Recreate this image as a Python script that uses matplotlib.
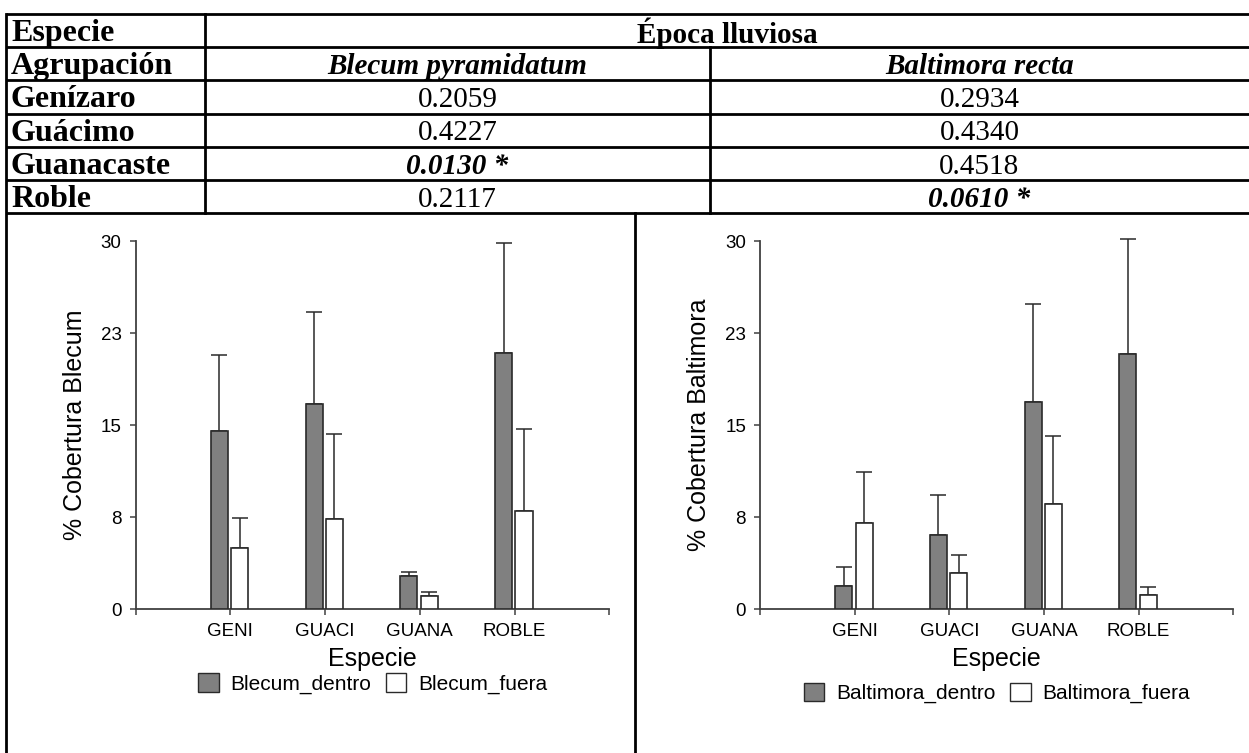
import matplotlib.pyplot as plt
from matplotlib.patches import Patch

# tabla de valores p
fila_titulo = 'Época lluviosa'
especies_tabla = ['Blecum pyramidatum', 'Baltimora recta']
agrupaciones = ['Genízaro', 'Guácimo', 'Guanacaste', 'Roble']
p_blecum = ['0.2059', '0.4227', '0.0130 *', '0.2117']
p_baltimora = ['0.2934', '0.4340', '0.4518', '0.0610 *']

# datos de los graficos
categorias = ['GENI', 'GUACI', 'GUANA', 'ROBLE']
blecum_dentro = [14.5, 16.7, 2.7, 20.9]
blecum_dentro_err = [6.2, 7.5, 0.35, 8.95]
blecum_fuera = [4.97, 7.3, 1.03, 8.0]
blecum_fuera_err = [2.46, 6.97, 0.37, 6.66]
balt_dentro = [1.84, 6.0, 16.9, 20.8]
balt_dentro_err = [1.6, 3.3, 7.93, 9.37]
balt_fuera = [7.04, 2.96, 8.52, 1.17]
balt_fuera_err = [4.16, 1.43, 5.61, 0.62]

W, H = 1249, 753
fig = plt.figure(figsize=(W / 100, H / 100), dpi=100)

# capa en pixeles para la tabla y los bordes
tab = fig.add_axes([0, 0, 1, 1])
tab.set_xlim(0, W)
tab.set_ylim(H, 0)
tab.axis('off')

serif = 'Liberation Serif'
lw = 2.0
filas_y = [14, 47, 80, 113.5, 147, 180, 213]
for y in filas_y:
    tab.plot([6, W], [y, y], color='black', lw=lw, solid_capstyle='butt')
tab.plot([6, 6], [14, H], color='black', lw=lw)
tab.plot([205, 205], [14, 213], color='black', lw=lw)
tab.plot([710, 710], [47, 213], color='black', lw=lw)
tab.plot([635, 635], [213, H], color='black', lw=lw)

fs_col = 23
fs = 21
centros = [(filas_y[i] + filas_y[i + 1]) / 2 + 3 for i in range(6)]
tab.text(11, centros[0], 'Especie', family=serif, weight='bold', fontsize=fs_col, va='center')
tab.text(11, centros[1], 'Agrupación', family=serif, weight='bold', fontsize=fs_col, va='center')
tab.text((205 + W) / 2, centros[0], fila_titulo, family=serif, weight='bold', fontsize=fs,
         va='center', ha='center')
col_x = [(205 + 710) / 2, (710 + W) / 2]
for cx, nombre in zip(col_x, especies_tabla):
    tab.text(cx, centros[1], nombre, family=serif, weight='bold', style='italic',
             fontsize=fs, va='center', ha='center')
for i, agr in enumerate(agrupaciones):
    y = centros[i + 2]
    tab.text(11, y, agr, family=serif, weight='bold', fontsize=fs_col, va='center')
    for cx, val in zip(col_x, [p_blecum[i], p_baltimora[i]]):
        if '*' in val:
            tab.text(cx, y, val, family=serif, weight='bold', style='italic',
                     fontsize=fs, va='center', ha='center')
        else:
            tab.text(cx, y, val, family=serif, fontsize=fs, va='center', ha='center')

plt.rcParams['font.family'] = 'Liberation Sans'
gris = '#404040'
borde = '#2a2a2a'


def grafico(rect, dentro, dentro_err, fuera, fuera_err, ylabel, nombres, ley_y):
    ax = fig.add_axes(rect)
    x = [i + 1 for i in range(len(categorias))]
    xd = [v - 0.115 for v in x]
    xf = [v + 0.1 for v in x]
    ax.bar(xd, dentro, width=0.18, color='#808080', edgecolor=borde, linewidth=1.2, zorder=3)
    ax.bar(xf, fuera, width=0.18, color='white', edgecolor=borde, linewidth=1.2, zorder=3)
    ax.errorbar(xd, dentro, yerr=[[0] * 4, dentro_err], fmt='none', ecolor=borde,
                elinewidth=1.1, capsize=6, capthick=1.1, clip_on=False, zorder=2)
    ax.errorbar(xf, fuera, yerr=[[0] * 4, fuera_err], fmt='none', ecolor=borde,
                elinewidth=1.1, capsize=6, capthick=1.1, clip_on=False, zorder=2)
    ax.set_xlim(0, 5)
    ax.set_ylim(0, 30)
    ax.set_yticks([0, 7.5, 15, 22.5, 30])
    ax.set_yticklabels(['0', '8', '15', '23', '30'])
    ax.set_xticks([0] + x + [5])
    ax.set_xticklabels([''] + categorias + [''])
    for s in ['top', 'right']:
        ax.spines[s].set_visible(False)
    for s in ['left', 'bottom']:
        ax.spines[s].set_color(gris)
        ax.spines[s].set_linewidth(1.3)
    ax.tick_params(direction='out', length=4, width=1.1, color=gris, labelsize=13.5, pad=6)
    ax.set_xlabel('Especie', fontsize=18, labelpad=5)
    ax.set_ylabel(ylabel, fontsize=18, labelpad=10)
    ax.patch.set_alpha(0)
    handles = [Patch(facecolor='#808080', edgecolor=borde, label=nombres[0]),
               Patch(facecolor='white', edgecolor=borde, label=nombres[1])]
    ax.legend(handles=handles, loc='center', bbox_to_anchor=(0.5, ley_y), ncol=2,
              frameon=False, fontsize=15, handlelength=1.0, handleheight=1.0,
              handletextpad=0.55, columnspacing=0.7)
    return ax


grafico([135.5 / W, 1 - 609 / H, 473.8 / W, 368 / H], blecum_dentro, blecum_dentro_err,
        blecum_fuera, blecum_fuera_err, '% Cobertura Blecum',
        ['Blecum_dentro', 'Blecum_fuera'], -0.203)
grafico([760 / W, 1 - 609 / H, 473.3 / W, 368 / H], balt_dentro, balt_dentro_err,
        balt_fuera, balt_fuera_err, '% Cobertura Baltimora',
        ['Baltimora_dentro', 'Baltimora_fuera'], -0.228)

fig.savefig('out.png', dpi=100)
